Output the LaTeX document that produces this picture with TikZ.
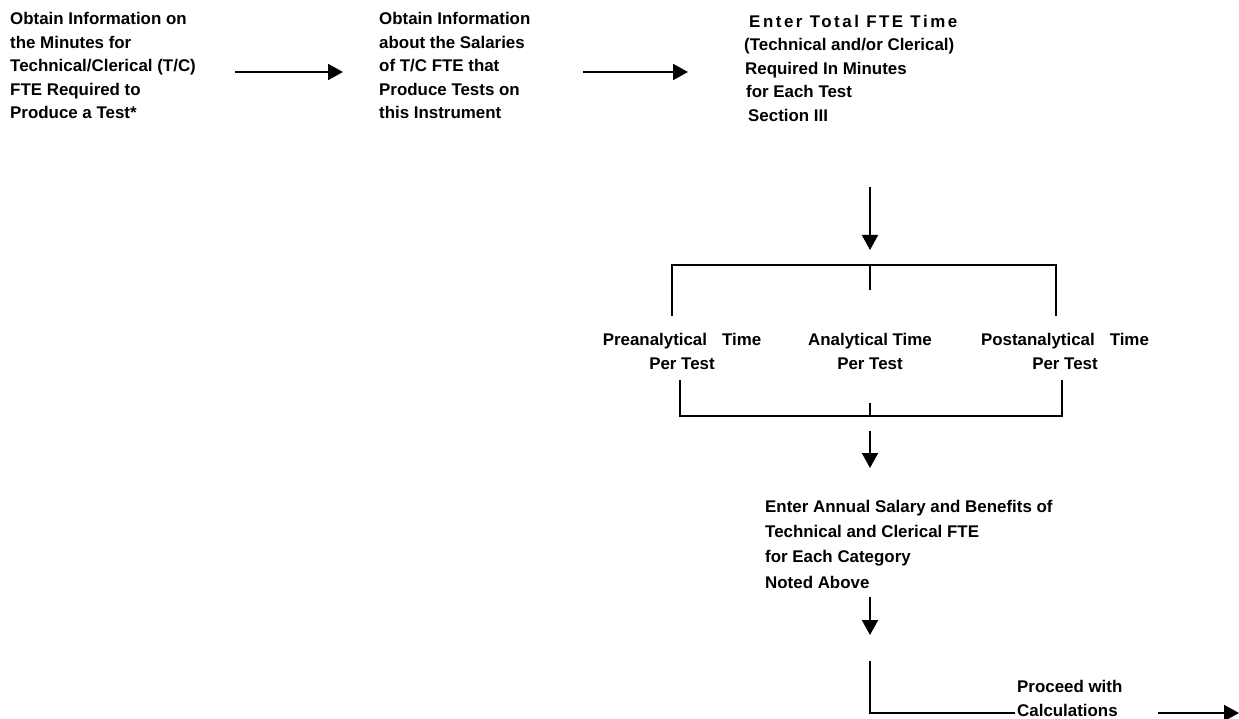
\documentclass[tikz,border=0pt]{standalone}
\usepackage{fontspec}
\setmainfont{Liberation Sans}
\usetikzlibrary{arrows.meta}
\tikzset{
  % multi-line nodes are placed by the baseline of their last line
  steptext/.style={inner sep=0pt, anchor=base west, align=left,
    font=\fontsize{16.9}{23.5}\selectfont\bfseries},
  cattext/.style={inner sep=0pt, anchor=base, align=center,
    font=\fontsize{16.9}{24}\selectfont\bfseries},
  flow/.style={line width=2pt},
  flowarrow/.style={flow, -{Triangle[length=15pt,width=16pt]}},
}
\begin{document}
\begin{tikzpicture}[x=1pt,y=-1pt]
\useasboundingbox (0,0) rectangle (1239,719);

% step texts along the top row
\node[steptext] (minutes) at (10,119)
  {Obtain Information on\\the Minutes for\\Technical/Clerical (T/C)\\FTE Required to\\Produce a Test*};
\node[steptext] (salaries) at (379,119)
  {Obtain Information\\about the Salaries\\of T/C FTE that\\Produce Tests on\\this Instrument};
\node[steptext] (total) at (744,121.5)
  {\hspace*{5pt}{\addfontfeature{LetterSpace=15}Enter Total FTE Time}\\(Technical and/or Clerical)\\\hspace*{1pt}Required In Minutes\\\hspace*{2pt}for Each Test\\\hspace*{4pt}Section III};

% time categories
\node[cattext] (pre) at (682,369) {Preanalytical\hspace{15pt}Time\\Per Test};
\node[cattext] (ana) at (870,369) {Analytical Time\\Per Test};
\node[cattext] (post) at (1065,369) {Postanalytical\hspace{15pt}Time\\Per Test};

% salary entry and final step
\node[steptext, font=\fontsize{16.9}{25.3}\selectfont\bfseries] (annual) at (765,588)
  {Enter Annual Salary and Benefits of\\Technical and Clerical FTE\\for Each Category\\Noted Above};
\node[steptext, font=\fontsize{16.9}{24}\selectfont\bfseries] (proceed) at (1017,716)
  {Proceed with\\Calculations};

% connector end points
\coordinate (a1s) at (235,72);   \coordinate (a1e) at (343,72);
\coordinate (a2s) at (583,72);   \coordinate (a2e) at (688,72);
\coordinate (d1s) at (870,187);  \coordinate (d1e) at (870,250);
\coordinate (tl) at (672,316);   \coordinate (tr) at (1056,316);
\coordinate (tbar) at (870,265); \coordinate (tstub) at (870,290);
\coordinate (bl) at (680,380);   \coordinate (br) at (1062,380);
\coordinate (bbar) at (870,416); \coordinate (bstub) at (870,403);
\coordinate (d2s) at (870,431);  \coordinate (d2e) at (870,468);
\coordinate (d3s) at (870,597);  \coordinate (d3e) at (870,635);
\coordinate (ls) at (870,661);   \coordinate (le) at (1015,713);
\coordinate (fs) at (1158,713);  \coordinate (fe) at (1239,713);

% arrows and brackets
\draw[flowarrow] (a1s) -- (a1e);
\draw[flowarrow] (a2s) -- (a2e);
\draw[flowarrow] (d1s) -- (d1e);
\draw[flow] (tl) |- (tbar) -| (tr);
\draw[flow] (tbar) -- (tstub);
\draw[flow] (bl) |- (bbar) -| (br);
\draw[flow] (bbar) -- (bstub);
\draw[flowarrow] (d2s) -- (d2e);
\draw[flowarrow] (d3s) -- (d3e);
\draw[flow] (ls) |- (le);
\draw[flowarrow] (fs) -- (fe);
\end{tikzpicture}
\end{document}
